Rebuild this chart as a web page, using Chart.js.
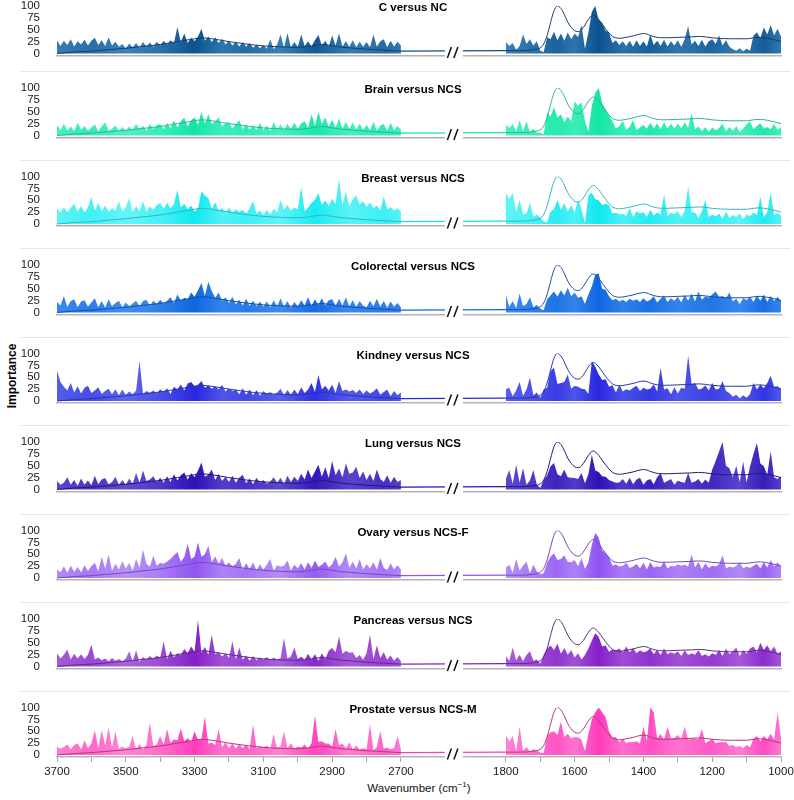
<!DOCTYPE html>
<html><head><meta charset="utf-8">
<script src="https://cdn.jsdelivr.net/npm/chart.js@4.4.1/dist/chart.umd.min.js"></script>
<style>
html,body{margin:0;padding:0;background:#fff;}
body{width:794px;height:800px;position:relative;overflow:hidden;font-family:"Liberation Sans",Arial,Helvetica,sans-serif;}
canvas{position:absolute;left:0;}
.sep{position:absolute;left:20px;width:770px;height:1px;background:#e6e6e6;}
#ylab{position:absolute;left:12px;top:376px;transform:translate(-50%,-50%) rotate(-90deg);font-weight:bold;font-size:12px;white-space:nowrap;color:#000;}
#xlab{position:absolute;left:419px;top:788px;transform:translate(-50%,-50%);font-size:11.5px;white-space:nowrap;color:#111;}
#xlab sup{font-size:8px;vertical-align:5px;line-height:0;}
</style></head><body>
<div id="ylab">Importance</div>
<div id="xlab">Wavenumber (cm<sup>−1</sup>)</div>
<script>
// ---------- categories (wavenumber grid) ----------
const WN_HI_START = 3700, WN_HI_END = 2700, WN_LO_START = 1800, WN_LO_END = 1000, WN_STEP = 10;
const wnHi = []; for (let w = WN_HI_START; w >= WN_HI_END; w -= WN_STEP) wnHi.push(w);
const wnLo = []; for (let w = WN_LO_START; w >= WN_LO_END; w -= WN_STEP) wnLo.push(w);

const panelTitles = ['C versus NC','Brain versus NCS','Breast versus NCS','Colorectal versus NCS','Kindney versus NCS','Lung versus NCS','Ovary versus NCS-F','Pancreas versus NCS','Prostate versus NCS-M'];
const yTickValues = [0,25,50,75,100];
const xTickWn = [3700,3600,3500,3400,3300,3200,3100,3000,2900,2800,2700,1800,1700,1600,1500,1400,1300,1200,1100,1000];
const xTickLabels = ['3700','','3500','','3300','','3100','','2900','','2700','1800','','1600','','1400','','1200','','1000'];

// ---------- mean spectrum (line) ----------
const meanHiWn = [3700,3650,3600,3550,3500,3450,3400,3350,3300,3280,3250,3200,3150,3100,3050,3000,2960,2930,2900,2870,2850,2800,2750,2700];
const meanHi   = [0,3,5,8,11,15,19,25,31,33,31,25,20,16,14,13,16,19,16,13,12,9,7,5];
const meanLoWn = [1800,1760,1720,1700,1690,1680,1670,1660,1650,1640,1630,1620,1610,1600,1590,1580,1570,1560,1550,1545,1540,1530,1520,1510,1500,1490,1480,1470,1450,1430,1410,1400,1390,1380,1360,1340,1300,1260,1240,1220,1200,1150,1100,1080,1060,1040,1020,1000];
const meanLo   = [6,6,8,12,20,38,65,90,100,95,82,66,55,48,46,50,60,72,80,81,79,72,62,52,43,36,33,32,34,37,41,42,41,38,34,33,34,35,36,35,33,31,31,33,34,32,29,25];

// ---------- importance series (3700->2700 and 1800->1000, step 10) ----------
const cHi = [28,16,27,18,30,15,26,19,29,17, 27,33,18,28,16,34,17,25,14,20, 11,21,13,22,12,24,15,23,14,25, 17,27,19,28,22,56,24,42,22,33, 26,36,52,27,36,24,34,22,31,19, 27,17,25,15,24,14,22,12,19,11, 18,10,30,9,19,40,12,43,13,24, 14,40,16,26,15,28,39,17,27,15, 38,17,42,15,26,14,28,13,25,14, 24,13,40,14,26,30,13,27,15,25, 17];
const cLo = [24,16,22,8,16,40,20,30,17,26, 6,3,34,30,46,28,42,27,44,30, 42,35,60,10,44,88,100,70,64,48, 44,22,28,18,26,16,27,14,28,16, 26,15,40,18,27,16,29,15,26,17, 28,14,30,58,19,27,16,29,15,26, 30,20,38,17,28,14,9,6,11,5, 10,6,38,45,32,55,40,60,38,52, 36];

const brainHi = [22,11,25,10,19,9,27,12,20,10, 17,23,9,19,28,10,14,21,9,18, 10,19,11,25,12,21,10,24,13,22, 24,13,27,15,32,17,30,38,19,32, 38,22,50,25,45,24,30,38,19,26, 28,14,24,32,13,23,12,22,11,27, 11,21,10,29,12,23,11,25,13,27, 14,26,30,16,45,20,50,24,38,19, 33,17,36,15,29,14,27,13,25,12, 22,11,29,10,21,24,10,27,11,20, 12];
const brainLo = [23,16,24,8,32,9,30,7,15,6, 6,2,48,40,60,38,45,28,40,30, 72,62,70,30,8,62,90,100,68,55, 42,30,14,20,31,12,18,33,11,17, 22,14,27,15,26,13,28,15,25,14, 26,15,28,16,47,13,19,9,18,7, 17,11,16,25,9,18,10,20,8,14, 24,30,13,20,26,14,18,13,24,12, 18];

const breastHi = [33,24,36,25,34,43,26,38,24,35, 57,28,45,27,39,26,33,28,48,26, 36,55,25,38,27,48,26,37,30,40, 44,32,45,33,42,72,35,42,31,39, 26,33,69,60,55,32,46,28,34,23, 35,24,31,26,30,22,33,48,22,29, 19,30,20,32,25,51,30,40,28,35, 31,78,27,34,44,51,65,40,50,38, 53,42,95,40,69,38,52,60,41,48, 36,46,33,39,28,58,31,36,28,33, 27];
const breastLo = [66,52,66,25,51,20,22,45,15,20, 13,6,3,26,32,51,30,44,26,40, 24,51,31,2,60,66,52,50,40,42, 40,22,24,20,22,17,33,14,27,22, 25,15,30,18,24,20,62,17,23,21, 27,14,28,79,25,24,13,26,51,15, 20,16,22,11,26,13,19,15,22,10, 20,17,24,19,58,14,25,66,19,23, 18];

const colorectalHi = [22,15,35,12,24,28,11,23,26,12, 21,30,11,24,10,28,13,20,25,11, 21,13,19,25,13,24,27,14,25,18, 27,19,25,32,20,38,25,31,28,42, 33,47,62,35,65,45,31,42,25,32, 20,33,17,27,15,29,14,25,13,23, 12,23,11,26,13,30,12,24,10,22, 13,26,15,32,14,28,16,30,15,26, 28,14,29,15,32,13,26,12,24,14, 11,25,13,29,12,24,10,23,12,20, 11];
const colorectalLo = [38,12,24,9,40,13,18,32,11,16, 8,5,28,36,44,33,47,36,52,34, 42,31,34,18,38,55,80,82,50,48, 34,26,29,23,27,22,29,25,28,22, 30,23,27,34,21,29,36,22,30,25, 33,21,37,25,40,23,44,27,34,31, 38,44,33,35,30,42,23,29,18,30, 26,33,22,36,25,38,22,35,24,33, 24];

const kidneyHi = [65,40,30,22,38,18,31,16,28,32, 17,22,29,15,21,26,14,25,12,24, 13,20,14,22,85,15,21,17,22,16, 25,19,27,15,30,24,35,22,37,40, 31,34,42,28,33,26,31,24,34,20, 27,21,24,14,27,13,24,12,23,11, 21,15,19,13,18,26,12,23,13,24, 14,29,17,24,38,19,55,25,32,22, 35,17,42,21,24,20,23,17,24,15, 22,16,20,27,13,19,24,10,21,12, 18];
const kidneyLo = [25,28,10,22,40,11,24,49,12,18, 7,24,28,63,70,36,38,40,56,26, 32,30,26,25,15,84,72,56,44,46, 30,33,18,34,20,25,22,28,32,21, 28,24,26,35,20,70,24,27,14,29, 16,28,26,96,36,38,24,26,33,22, 38,24,26,42,21,17,9,13,6,12, 7,15,38,24,35,27,38,53,30,31, 26];

const lungHi = [18,10,14,26,10,20,8,23,10,19, 9,29,11,21,24,11,16,27,10,20, 10,23,12,35,14,40,18,21,28,16, 25,14,28,16,32,19,30,36,21,34, 26,40,57,27,31,42,20,33,18,27, 16,29,14,25,31,13,23,11,25,14, 20,12,17,26,14,25,11,29,16,27, 18,33,21,42,24,38,52,27,47,25, 60,30,44,26,55,33,36,48,24,38, 20,33,18,42,22,16,30,14,27,16, 20];
const lungLo = [22,41,12,52,14,45,10,19,41,10, 3,20,30,49,56,32,28,42,26,25, 24,22,35,13,32,73,40,37,28,27, 20,17,14,15,22,12,25,11,21,25, 10,19,22,11,26,35,14,18,22,10, 19,16,14,35,14,17,22,12,21,14, 42,60,80,100,50,45,26,50,16,59, 15,49,75,98,55,49,31,80,26,22, 28];

const ovaryHi = [18,12,25,11,26,13,23,12,27,15, 25,32,14,45,20,50,16,30,18,36, 20,32,16,40,22,60,30,24,47,26, 32,30,35,40,48,55,34,44,72,40, 45,75,45,50,68,33,46,30,42,26, 33,25,30,42,18,31,19,33,16,29, 18,28,40,16,27,24,26,37,16,28, 20,31,18,33,21,37,23,28,35,22, 29,45,24,33,52,22,35,20,40,18, 29,20,33,18,42,21,17,31,18,27, 18];
const ovaryLo = [22,28,11,40,16,26,35,10,28,14, 8,10,32,45,52,38,40,48,34,33, 38,25,42,19,33,70,95,85,58,52, 44,26,29,24,26,32,21,24,30,20, 32,18,33,22,24,23,36,20,26,24, 29,26,28,24,50,22,34,18,31,21, 26,24,29,48,20,24,22,26,33,20, 24,21,26,30,20,33,22,38,24,33, 24];

const pancreasHi = [28,17,25,36,15,27,17,26,16,25, 46,15,19,13,17,11,18,12,16,11, 17,32,11,34,10,20,14,22,16,23, 18,53,16,33,19,28,24,37,28,42, 31,98,29,41,25,67,26,30,21,28, 18,53,15,40,14,23,12,22,13,19, 14,20,13,19,14,18,60,17,21,40, 16,21,14,27,15,26,12,28,16,33, 39,30,63,27,33,29,30,18,24,14, 28,67,16,45,18,30,14,23,12,20, 11];
const pancreasLo = [22,12,40,13,25,11,24,32,12,15, 6,25,38,44,35,48,27,39,25,35, 19,28,15,24,38,55,70,62,42,44, 31,36,34,38,30,42,30,39,28,34, 30,32,38,26,35,24,38,26,30,27, 32,22,34,24,28,25,35,22,26,21, 28,24,35,22,38,26,32,40,22,35, 27,38,42,30,50,35,45,32,42,27, 32];

const prostateHi = [18,13,17,22,12,21,24,12,31,14, 24,52,14,52,20,58,16,50,13,18, 14,18,40,12,23,11,22,69,18,22, 40,22,55,26,33,31,56,29,36,27, 50,31,34,81,24,26,21,55,17,27, 14,25,13,23,14,22,12,65,14,19, 16,20,12,45,14,19,50,15,25,13, 18,16,22,13,25,83,28,29,24,24, 18,55,21,24,14,27,12,20,11,15, 12,65,10,17,50,13,16,12,15,40, 12];
const prostateLo = [42,29,40,8,60,9,17,7,12,10, 5,4,40,48,50,42,70,38,45,35, 38,37,32,8,45,75,90,100,90,80, 50,37,38,27,35,25,28,27,29,24, 60,29,100,90,35,44,32,60,35,36, 42,33,60,32,34,35,33,55,25,29, 34,25,27,27,28,19,21,17,19,14, 21,16,35,40,29,40,33,45,32,90, 38];

const panelHi = [cHi, brainHi, breastHi, colorectalHi, kidneyHi, lungHi, ovaryHi, pancreasHi, prostateHi];
const panelLo = [cLo, brainLo, breastLo, colorectalLo, kidneyLo, lungLo, ovaryLo, pancreasLo, prostateLo];

// ---------- styling ----------
const FONT = '"Liberation Sans", Arial, Helvetica, sans-serif';
const panelColors = [
  {light:'#4a92c6', dark:'#0c5290', line:'#1a3c70'},
  {light:'#5cf5c8', dark:'#14e6a6', line:'#2fb59a'},
  {light:'#80f9f9', dark:'#10e8f0', line:'#33b5c5'},
  {light:'#4f9cf2', dark:'#0f66e0', line:'#1a4ea8'},
  {light:'#6c78f0', dark:'#2828e0', line:'#2a35a8'},
  {light:'#7060d8', dark:'#2a12b5', line:'#1e1a78'},
  {light:'#c4a6fa', dark:'#9054f0', line:'#6e4cc0'},
  {light:'#b878e0', dark:'#8420c8', line:'#5e2a8a'},
  {light:'#ff9edc', dark:'#ff3cbc', line:'#b8357f'}
];
const shadeStops = [[3700,.35],[3600,.55],[3500,.25],[3400,.5],[3300,1],[3220,.45],[3150,.6],[3050,.3],[2950,.9],[2850,.35],[2750,.6],[2700,.4],[1800,.3],[1720,.5],[1650,.75],[1600,.45],[1530,1],[1460,.5],[1380,.8],[1300,.45],[1200,.7],[1120,.35],[1050,.85],[1000,.4]];
const panelTop100 = [6, 88, 176.5, 265, 353.5, 442, 530.5, 619, 707.5];
const PX_PER_UNIT = 0.475;
const Y_MIN = -4, Y_MAX = 100;
const GAP_UNITS = 305;

// broken axis transform
const HI_SPAN = WN_HI_START - WN_HI_END;
function tOf(w){ return w >= WN_HI_END ? WN_HI_START - w : HI_SPAN + GAP_UNITS + (WN_LO_START - w); }
const T_MAX = tOf(WN_LO_END);
function pts(wns, vals){ const out=[]; wns.forEach((w,i)=>{ if (vals[i] !== undefined) out.push({x:tOf(w), y:vals[i]}); }); return out; }

function hexToRgb(h){ const n=parseInt(h.slice(1),16); return [n>>16&255, n>>8&255, n&255]; }
function mix(a,b,s){ const A=hexToRgb(a),B=hexToRgb(b); return 'rgb(' + A.map((v,i)=>Math.round(v+(B[i]-v)*s)).join(',') + ')'; }
function fillGradient(c, pc){
  const chart = c.chart; const area = chart.chartArea; if (!area || !chart.scales.x) return pc.dark;
  const xs = chart.scales.x;
  const g = chart.ctx.createLinearGradient(area.left,0,area.right,0);
  shadeStops.forEach(([w,s])=>{
    const p = (xs.getPixelForValue(tOf(w)) - area.left) / (area.right - area.left);
    g.addColorStop(Math.min(1,Math.max(0,p)), mix(pc.light, pc.dark, s));
  });
  return g;
}

const decor = {
  id:'decor',
  afterDraw(chart, args, opts){
    const {ctx, chartArea:a, scales:{x, y}} = chart;
    ctx.save();
    ctx.font = 'bold 11.5px ' + FONT; ctx.fillStyle = '#000';
    ctx.textAlign = 'center'; ctx.textBaseline = 'middle';
    ctx.fillText(opts.title, 413, y.getPixelForValue(Y_MAX) + 2);
    const xm = (x.getPixelForValue(tOf(WN_HI_END)) + x.getPixelForValue(tOf(WN_LO_START))) / 2;
    const yb = a.bottom;
    ctx.fillStyle = '#fff'; ctx.fillRect(xm - 8.5, yb - 9, 18, 12);
    ctx.strokeStyle = '#111'; ctx.lineWidth = 1.5; ctx.beginPath();
    ctx.moveTo(xm - 6, yb + 2.5); ctx.lineTo(xm - 2, yb - 8.5);
    ctx.moveTo(xm + 0.5, yb + 2.5); ctx.lineTo(xm + 4.5, yb - 8.5);
    ctx.stroke(); ctx.restore();
  }
};

// separators
for (let k = 1; k < panelTop100.length; k++) {
  const d = document.createElement('div'); d.className = 'sep'; d.style.top = (panelTop100[k] - 17) + 'px'; document.body.appendChild(d);
}

panelTitles.forEach((title, k) => {
  const isLast = k === panelTitles.length - 1;
  const pc = panelColors[k];
  const top100 = panelTop100[k];
  const cTop = Math.floor(top100 - 6);
  const padTop = top100 - cTop;
  const H = isLast ? 800 - cTop : 86;
  const bottomEdge = padTop + (Y_MAX - Y_MIN) * PX_PER_UNIT;
  const xAxisH = isLast ? H - bottomEdge : 0;
  const padBottom = isLast ? 0 : H - bottomEdge;
  const cv = document.createElement('canvas');
  cv.width = 794; cv.height = H; cv.style.top = cTop + 'px'; cv.style.width='794px'; cv.style.height=H+'px';
  document.body.appendChild(cv);
  new Chart(cv, {
    type: 'line',
    data: { datasets: [
      {data: pts(meanHiWn, meanHi), borderColor: pc.line, borderWidth: 1, pointRadius: 0, fill: false, cubicInterpolationMode: 'monotone'},
      {data: pts(meanLoWn, meanLo), borderColor: pc.line, borderWidth: 1, pointRadius: 0, fill: false, cubicInterpolationMode: 'monotone'},
      {data: [{x: tOf(WN_HI_END), y: meanHi[meanHi.length-1]}, {x: tOf(WN_LO_START), y: meanLo[0]}], borderColor: pc.dark, borderWidth: 1.2, pointRadius: 0, fill: false},
      {data: pts(wnHi, panelHi[k]), borderWidth: 0, borderColor: 'rgba(0,0,0,0)', pointRadius: 0, fill: 'origin', backgroundColor: c => fillGradient(c, pc), tension: 0},
      {data: pts(wnLo, panelLo[k]), borderWidth: 0, borderColor: 'rgba(0,0,0,0)', pointRadius: 0, fill: 'origin', backgroundColor: c => fillGradient(c, pc), tension: 0}
    ]},
    options: {
      responsive: false, animation: false, events: [],
      layout: {padding: {left: 0, right: 13, top: padTop, bottom: padBottom}},
      plugins: {legend: {display: false}, tooltip: {enabled: false}, decor: {title}},
      scales: {
        x: {
          type: 'linear', min: 0, max: T_MAX,
          afterBuildTicks: s => { s.ticks = xTickWn.map(w => ({value: tOf(w)})); },
          afterFit: s => { s.height = xAxisH; s.paddingLeft = 0; s.paddingRight = 0; },
          border: {display: true, color: '#b3b3b3', width: 1.5},
          grid: {display: isLast, drawOnChartArea: false, drawTicks: isLast, tickLength: 5, color: '#a0a0a0'},
          ticks: {display: isLast, autoSkip: false, maxRotation: 0, padding: 3, color: '#1a1a1a', font: {size: 11.5, family: FONT}, callback: (v, i) => xTickLabels[i]}
        },
        y: {
          min: Y_MIN, max: Y_MAX,
          afterBuildTicks: s => { s.ticks = yTickValues.map(v => ({value: v})); },
          afterFit: s => { s.width = 57; s.paddingTop = 0; s.paddingBottom = 0; },
          grid: {display: false, drawTicks: false}, border: {display: false},
          ticks: {padding: 17, color: '#1a1a1a', font: {size: 11.5, family: FONT}, autoSkip: false}
        }
      }
    },
    plugins: [decor]
  });
});
</script></body></html>
